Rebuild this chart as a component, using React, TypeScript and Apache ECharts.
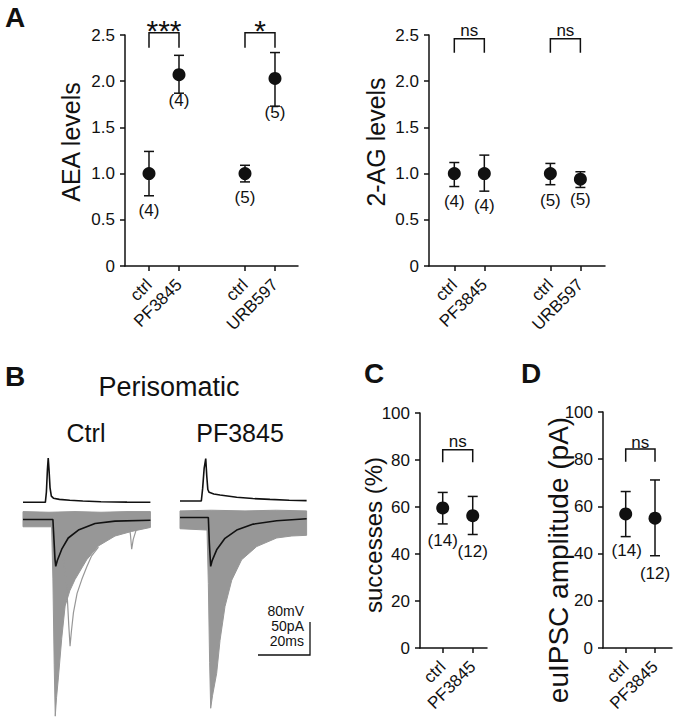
import React, { useEffect, useRef } from "react";
import * as echarts from "echarts";

// ---------- Panel A data ----------
const aCategories = ["ctrl", "PF3845", "ctrl", "URB597"];
const aPositions = [1, 2, 4.2, 5.2];
const aeaMean = [1.0, 2.07, 1.0, 2.03];
const aeaLow = [0.76, 1.87, 0.91, 1.73];
const aeaHigh = [1.24, 2.28, 1.09, 2.31];
const aeaN = ["(4)", "(4)", "(5)", "(5)"];
const agMean = [1.0, 1.0, 1.0, 0.94];
const agLow = [0.86, 0.81, 0.88, 0.85];
const agHigh = [1.12, 1.2, 1.11, 1.02];
const agN = ["(4)", "(4)", "(5)", "(5)"];
const aeaSig = ["***", "*"];
const agSig = ["ns", "ns"];

// ---------- Panels C / D data ----------
const cdCategories = ["ctrl", "PF3845"];
const cdPositions = [1, 2];
const successMean = [59.6, 56.3];
const successLow = [52.8, 48.3];
const successHigh = [66.2, 64.5];
const successN = ["(14)", "(12)"];
const ampMean = [56.8, 55.0];
const ampLow = [47.2, 39.1];
const ampHigh = [66.3, 71.2];
const ampN = ["(14)", "(12)"];
const cdSig = ["ns"];

// ---------- Panel B traces (time ms, mV / pA relative to baseline) ----------
const ctrlAP = [[0, 0], [8.6, 0], [9.0, 25], [9.4, 80], [9.7, 107], [10.0, 80], [10.4, 35], [10.9, 15], [11.7, 10], [14, 7], [18, 5], [23, 3], [30, 1.5], [40, 0.5], [49, 0]];
const ctrlMean = [[0, 0], [11.5, 0], [11.9, -30], [12.3, -60], [12.6, -71], [13.2, -62], [14.9, -45], [17.4, -28], [21.3, -16], [27.7, -6], [35.4, -2.5], [49, -1]];
const ctrlUpper = [[0, 12], [10, 11], [20, 12], [30, 11], [40, 12], [49, 12]];
const ctrlLower = [[0, -11], [11.0, -11], [11.5, -90], [12.0, -220], [12.4, -298], [12.9, -270], [13.6, -240], [14.9, -180], [16.2, -131], [18, -108], [20, -91], [24.5, -61], [29, -40], [35.4, -25], [41.8, -18], [49, -12]];
const ctrlLate = [[15.5, -60], [16.8, -100], [17.6, -160], [18.1, -192], [18.6, -170], [19.4, -141], [20.8, -112], [22.6, -91], [24.5, -72], [26.4, -55], [29, -42]];
const ctrlSpont = [[40.8, -10], [41.3, -22], [41.8, -45], [42.4, -30], [43.5, -16], [45, -10]];

const pfAP = [[0, 0], [8.2, 0], [8.7, 30], [9.3, 80], [9.9, 103], [10.3, 60], [10.7, 28], [11.2, 21], [13, 17], [15.4, 14.5], [21.8, 9], [28, 6], [34.6, 4], [42, 2], [48.7, 1]];
const pfMean = [[0, 0], [10.9, 0], [11.3, -40], [11.8, -74], [12.4, -65], [14.1, -49], [17.3, -31.5], [21.8, -19], [28.2, -10], [37.2, -5], [48.7, -2]];
const pfUpper = [[0, 10], [12, 11], [25, 10], [37, 11], [48.7, 10]];
const pfLower = [[0, -17], [10.4, -19], [10.9, -100], [11.4, -220], [11.8, -289], [12.5, -270], [14.1, -236], [15.4, -186], [17.3, -135], [19.9, -95], [23.7, -64], [29.5, -44], [37.2, -31], [43, -28], [48.7, -27]];

const scaleMs = 20;
const scalePA = 50;
const scaleLabels = ["80mV", "50pA", "20ms"];

const FONT = 'Arial, "Liberation Sans", Helvetica, sans-serif';
const INK = "#111111";
const GRAY = "#979797";

function nearest(arr: number[], v: number) {
  let b = 0;
  for (let i = 1; i < arr.length; i++) if (Math.abs(arr[i] - v) < Math.abs(arr[b] - v)) b = i;
  return b;
}

function xAxisFor(gi: number, min: number, max: number, pos: number[], labels: string[]) {
  return {
    type: "value", gridIndex: gi, min, max,
    axisLine: { show: true, onZero: false, lineStyle: { color: INK, width: 1.5 } },
    axisTick: { show: true, customValues: pos, length: 5, lineStyle: { color: INK, width: 1.5 } },
    axisLabel: {
      customValues: pos, rotate: 45, margin: 16, fontSize: 17, color: INK, fontFamily: FONT,
      formatter: (v: number) => labels[nearest(pos, v)],
    },
    splitLine: { show: false },
  };
}

function yAxisFor(gi: number, max: number, interval: number, dec: boolean) {
  return {
    type: "value", gridIndex: gi, min: 0, max, interval,
    axisLine: { show: true, lineStyle: { color: INK, width: 1.5 } },
    axisTick: { show: true, length: 5, lineStyle: { color: INK, width: 1.5 } },
    axisLabel: {
      margin: 10, fontSize: 17, color: INK, fontFamily: FONT,
      formatter: (v: number) => (v === 0 ? "0" : dec ? v.toFixed(1) : String(v)),
    },
    splitLine: { show: false },
  };
}

function dotSeries(ai: number, pos: number[], mean: number[], low: number[], high: number[], nLab: string[], nDx: number[], nDy: number[]) {
  const errs = {
    type: "custom", xAxisIndex: ai, yAxisIndex: ai, z: 3,
    data: pos.map((p, i) => [p, mean[i], low[i], high[i]]),
    renderItem: (params: any, api: any) => {
      const x = api.value(0);
      const pLo = api.coord([x, api.value(2)]);
      const pHi = api.coord([x, api.value(3)]);
      const i = params.dataIndex;
      const st = { stroke: INK, lineWidth: 1.5 };
      return {
        type: "group",
        children: [
          { type: "line", shape: { x1: pLo[0], y1: pLo[1], x2: pHi[0], y2: pHi[1] }, style: st },
          { type: "line", shape: { x1: pLo[0] - 5, y1: pLo[1], x2: pLo[0] + 5, y2: pLo[1] }, style: st },
          { type: "line", shape: { x1: pHi[0] - 5, y1: pHi[1], x2: pHi[0] + 5, y2: pHi[1] }, style: st },
          {
            type: "text", x: pLo[0] + nDx[i], y: pLo[1] + nDy[i],
            style: { text: nLab[i], fill: INK, fontSize: 17, fontFamily: FONT, align: "center", verticalAlign: "middle" },
          },
        ],
      };
    },
  };
  const dots = {
    type: "scatter", xAxisIndex: ai, yAxisIndex: ai, z: 4, symbol: "circle", symbolSize: 13,
    itemStyle: { color: INK, opacity: 1 }, data: pos.map((p, i) => [p, mean[i]]),
  };
  return [errs, dots];
}

function bracketSeries(ai: number, pairs: number[][], yTop: number, leg: number, labels: string[], fontSize: number, textDy: number) {
  return {
    type: "custom", xAxisIndex: ai, yAxisIndex: ai, z: 3,
    data: pairs.map((p) => [p[0], p[1], yTop]),
    renderItem: (params: any, api: any) => {
      const a = api.coord([api.value(0), api.value(2)]);
      const b = api.coord([api.value(1), api.value(2)]);
      return {
        type: "group",
        children: [
          {
            type: "polyline",
            shape: { points: [[a[0], a[1] + leg], [a[0], a[1]], [b[0], b[1]], [b[0], b[1] + leg]] },
            style: { stroke: INK, lineWidth: 1.5, fill: null },
          },
          {
            type: "text", x: (a[0] + b[0]) / 2, y: a[1] + textDy,
            style: { text: labels[params.dataIndex], fill: INK, fontSize, fontFamily: FONT, align: "center", verticalAlign: "middle" },
          },
        ],
      };
    },
  };
}

function envelopeSeries(xi: number, yi: number, upper: number[][], lower: number[][]) {
  return {
    type: "custom", xAxisIndex: xi, yAxisIndex: yi, z: 1, clip: false,
    data: [[0, 0]],
    renderItem: (_p: any, api: any) => {
      const pts = upper.map((d) => api.coord(d)).concat(lower.slice().reverse().map((d) => api.coord(d)));
      return { type: "polygon", shape: { points: pts }, style: { fill: GRAY, stroke: GRAY, lineWidth: 1 } };
    },
  };
}

function scaleBarSeries(xi: number, yi: number, cornerT: number, cornerI: number) {
  return {
    type: "custom", xAxisIndex: xi, yAxisIndex: yi, z: 5, clip: false,
    data: [[cornerT, cornerI]],
    renderItem: (_p: any, api: any) => {
      const c = api.coord([cornerT, cornerI]);
      const l = api.coord([cornerT - scaleMs, cornerI]);
      const t = api.coord([cornerT, cornerI + scalePA]);
      const labels = scaleLabels.map((s, i) => ({
        type: "text", x: c[0] - 6, y: t[1] - 11 + i * 15,
        style: { text: s, fill: INK, fontSize: 14, fontFamily: FONT, align: "right", verticalAlign: "middle" },
      }));
      return {
        type: "group",
        children: [
          {
            type: "polyline",
            shape: { points: [l, c, t] },
            style: { stroke: INK, lineWidth: 1.3, fill: null },
          },
          ...labels,
        ],
      };
    },
  };
}

function lineSeries(xi: number, yi: number, data: number[][], color: string, width: number, z = 2) {
  return {
    type: "line", xAxisIndex: xi, yAxisIndex: yi, data, showSymbol: false, symbol: "none",
    lineStyle: { color, width }, z, clip: false,
  };
}

function hiddenAxis(gi: number, min: number, max: number) {
  return { type: "value", gridIndex: gi, min, max, show: false, splitLine: { show: false } };
}

function txt(text: string, x: number, y: number, size: number, opts: any = {}) {
  return {
    type: "text", x, y, rotation: opts.rot || 0,
    style: {
      text, fill: INK, fontSize: size, fontFamily: FONT, fontWeight: opts.bold ? "bold" : "normal",
      align: opts.align || "center", verticalAlign: opts.va || "middle",
    },
  };
}

export default function App() {
  const ref = useRef<HTMLDivElement>(null);
  useEffect(() => {
    if (!ref.current) return;
    const chart = echarts.init(ref.current, undefined, { renderer: "svg" });
    const grid = (left: number, top: number, width: number, height: number) => ({ left, top, width, height, containLabel: false, outerBoundsMode: "none" });
    const option: any = {
      animation: false,
      backgroundColor: "#ffffff",
      grid: [
        grid(125, 35, 173, 231),
        grid(429, 35, 176, 231),
        grid(420, 413, 67, 235),
        grid(603, 412, 69, 236),
        grid(23, 440, 127.4, 280),
        grid(180, 440, 127.4, 280),
      ],
      xAxis: [
        xAxisFor(0, 0.2, 5.967, aPositions, aCategories),
        xAxisFor(1, 0.157, 6.02, aPositions, aCategories),
        xAxisFor(2, 0.243, 2.476, cdPositions, cdCategories),
        xAxisFor(3, 0.225, 2.58, cdPositions, cdCategories),
        hiddenAxis(4, 0, 49),
        hiddenAxis(5, 0, 49),
      ],
      yAxis: [
        yAxisFor(0, 2.5, 0.5, true),
        yAxisFor(1, 2.5, 0.5, true),
        yAxisFor(2, 100, 20, false),
        yAxisFor(3, 100, 20, false),
        hiddenAxis(4, -527.7, 151),
        hiddenAxis(4, -303.8, 120.5),
        hiddenAxis(5, -530.9, 147.9),
        hiddenAxis(5, -306.8, 117.4),
      ],
      series: [
        ...dotSeries(0, aPositions, aeaMean, aeaLow, aeaHigh, aeaN, [0, 0, 0, 0], [15, 7, 16, 6]),
        ...dotSeries(1, aPositions, agMean, agLow, agHigh, agN, [0, 0, 0, 0], [15, 14, 16, 12]),
        ...dotSeries(2, cdPositions, successMean, successLow, successHigh, successN, [0, 0], [17, 17]),
        ...dotSeries(3, cdPositions, ampMean, ampLow, ampHigh, ampN, [1, 0], [14, 18]),
        bracketSeries(0, [[aPositions[0], aPositions[1]], [aPositions[2], aPositions[3]]], 2.525, 15, aeaSig, 30, -2),
        bracketSeries(1, [[aPositions[0], aPositions[1]], [aPositions[2], aPositions[3]]], 2.46, 14, agSig, 17, -8),
        bracketSeries(2, [[cdPositions[0], cdPositions[1]]], 84.4, 12.7, cdSig, 17, -8),
        bracketSeries(3, [[cdPositions[0], cdPositions[1]]], 84.3, 12.7, cdSig, 17, -7),
        // Trace panel: Ctrl
        envelopeSeries(4, 5, ctrlUpper, ctrlLower),
        lineSeries(4, 5, ctrlLate, GRAY, 1.2),
        lineSeries(4, 5, ctrlSpont, GRAY, 1.2),
        lineSeries(4, 5, ctrlMean, INK, 1.6, 3),
        lineSeries(4, 4, ctrlAP, INK, 1.6, 3),
        // Trace panel: PF3845
        envelopeSeries(5, 7, pfUpper, pfLower),
        lineSeries(5, 7, pfMean, INK, 1.6, 3),
        lineSeries(5, 6, pfAP, INK, 1.6, 3),
        // scale bar (20 ms, 50 pA / 80 mV)
        scaleBarSeries(5, 7, 50, -208.3),
      ],
      graphic: [
        txt("A", 5, 17, 28, { bold: true, align: "left" }),
        txt("B", 5, 376, 28, { bold: true, align: "left" }),
        txt("C", 364, 373, 28, { bold: true, align: "left" }),
        txt("D", 521, 373, 28, { bold: true, align: "left" }),
        txt("AEA levels", 71, 142, 25, { rot: Math.PI / 2 }),
        txt("2-AG levels", 376, 142, 25, { rot: Math.PI / 2 }),
        txt("successes (%)", 373, 535, 24, { rot: Math.PI / 2 }),
        txt("euIPSC amplitude (pA)", 558, 560, 28, { rot: Math.PI / 2 }),
        txt("Perisomatic", 169, 387, 27),
        txt("Ctrl", 86, 433, 25),
        txt("PF3845", 240, 433, 25),
      ],
    };
    chart.setOption(option);
    return () => chart.dispose();
  }, []);
  return <div ref={ref} style={{ position: "absolute", left: 0, top: 0, width: 675, height: 720 }} />;
}
